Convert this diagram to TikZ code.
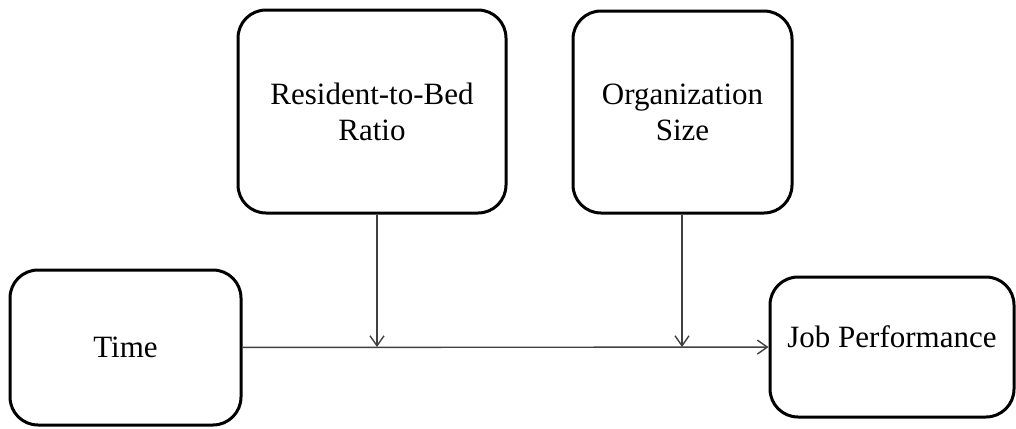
\documentclass[tikz,border=0pt]{standalone}
\usepackage{fontspec}
\setmainfont{Liberation Serif}
\usetikzlibrary{arrows.meta}

\begin{document}
\begin{tikzpicture}[x=0.5pt,y=-0.5pt]
\tikzstyle{every node}+=[inner sep=0pt, font=\fontsize{15.5}{18}\selectfont, align=center]
\tikzstyle{box}=[draw, line width=1.5pt, rounded corners=14pt]
\tikzstyle{conn}=[draw=black!75, line width=0.7pt, -{Straight Barb[length=5pt,width=7pt]}]
\useasboundingbox (0,0) rectangle (1016,428);
\node [box, minimum width=115.5pt, minimum height=77.5pt] (time) at (125.5,347.5) {Time};
\node [box, minimum width=122pt, minimum height=70pt, text depth=10pt] (job) at (892,347) {Job Performance};
\node [box, minimum width=134pt, minimum height=101.5pt] (ratio) at (372,111.5) {Resident-to-Bed\\Ratio};
\node [box, minimum width=109.5pt, minimum height=101pt] (size) at (682.5,112) {Organization\\Size};
\coordinate (m1) at (377,347);
\coordinate (m2) at (682,347);
\draw [conn] (time) -- (job);
\draw [conn] (ratio.south -| m1) -- (m1);
\draw [conn] (size.south -| m2) -- (m2);
\end{tikzpicture}
\end{document}
